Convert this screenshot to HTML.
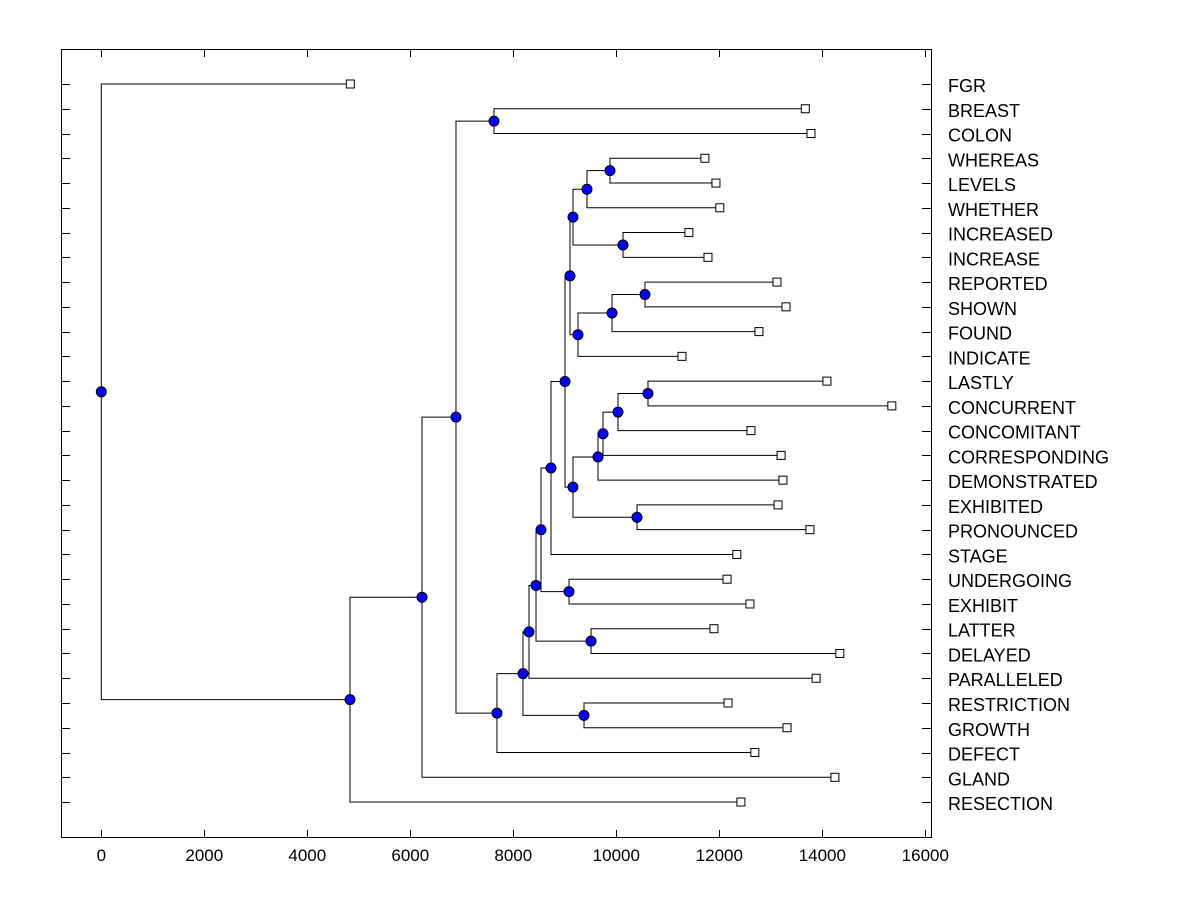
<!DOCTYPE html>
<html><head><meta charset="utf-8"><style>
html,body{margin:0;padding:0;background:#fff;}
svg{display:block;font-family:"Liberation Sans",Arial,sans-serif;}
</style></head><body>
<svg id="chart" width="1200" height="900" viewBox="0 0 1200 900" xmlns="http://www.w3.org/2000/svg">
<rect x="0" y="0" width="1200" height="900" fill="#fff"/>
<g id="axes"></g>
<g id="tree"></g>
<rect x="61.5" y="49.5" width="870" height="788" fill="none" stroke="#000" stroke-width="1"/>
</svg>
<script>
const leafNames = ["FGR","BREAST","COLON","WHEREAS","LEVELS","WHETHER","INCREASED","INCREASE","REPORTED","SHOWN","FOUND","INDICATE","LASTLY","CONCURRENT","CONCOMITANT","CORRESPONDING","DEMONSTRATED","EXHIBITED","PRONOUNCED","STAGE","UNDERGOING","EXHIBIT","LATTER","DELAYED","PARALLELED","RESTRICTION","GROWTH","DEFECT","GLAND","RESECTION"];
const leafValues = [4835,13670,13780,11720,11935,12010,11410,11780,13120,13295,12770,11275,14090,15350,12615,13200,13235,13140,13760,12340,12150,12595,11895,14340,13880,12170,13315,12690,14245,12420];
const mergeLeft  = [1,3,31,6,32,8,35,36,34,12,39,40,41,17,42,38,45,20,46,22,48,50,25,51,53,30,55,56,0];
const mergeRight = [2,4,5,7,33,9,10,11,37,13,14,15,16,18,43,44,19,21,47,23,49,24,26,52,27,54,28,29,57];
const mergeHeight = [7625,9877,9431,10130,9159,10557,9917,9256,9101,10615,10033,9742,9645,10402,9159,9004,8732,9082,8538,9509,8441,8305,9373,8188,7683,6887,6227,4829,0];
const xTicks = [0,2000,4000,6000,8000,10000,12000,14000,16000];

const NS="http://www.w3.org/2000/svg";
const xs = v => 101.3 + v*0.0515;
const rowY = i => 84 + i*24.76;
function mk(tag, attrs, parent){const e=document.createElementNS(NS,tag);for(const k in attrs)e.setAttribute(k,attrs[k]);parent.appendChild(e);return e;}
const axes=document.getElementById('axes'), tree=document.getElementById('tree');

xTicks.forEach(t=>{
  const x=Math.round(xs(t))+0.5;
  let l=mk('line',{x1:x,x2:x,y1:49,y2:57,stroke:'#000'},axes);
  
  
  l=mk('line',{x1:x,x2:x,y1:830,y2:838,stroke:'#000'},axes);
  
  
  const tx=mk('text',{x:xs(t),y:861,'text-anchor':'middle','font-size':17},axes);
  tx.textContent=t;
  
  
});
leafNames.forEach((n,i)=>{
  const y=Math.round(rowY(i))+0.5;
  let l=mk('line',{x1:61,x2:70,y1:y,y2:y,stroke:'#000'},axes);
  
  
  l=mk('line',{x1:922,x2:931,y1:y,y2:y,stroke:'#000'},axes);
  
  
  const tx=mk('text',{x:948,y:rowY(i)+8,'font-size':18},axes);
  tx.textContent=n;
  
  
});

const N=leafNames.length;
const nodeX=[], nodeY=[];
leafNames.forEach((n,i)=>{nodeX[i]=xs(leafValues[i]);nodeY[i]=rowY(i);});
const lines=mk('g',{},tree), marks=mk('g',{},tree);
mergeHeight.forEach((h,k)=>{
  const id=N+k, a=mergeLeft[k], b=mergeRight[k];
  const x=xs(h);
  nodeX[id]=x; nodeY[id]=(nodeY[a]+nodeY[b])/2;
  const p=mk('path',{d:`M${nodeX[a]} ${nodeY[a]}H${x}V${nodeY[b]}H${nodeX[b]}`,fill:'none',stroke:'#000','stroke-width':1},lines);
  
  
});
leafNames.forEach((n,i)=>{
  const s=mk('rect',{x:nodeX[i]-4,y:nodeY[i]-4,width:8,height:8,fill:'#fff',stroke:'#000'},marks);
  
  
});
mergeHeight.forEach((h,k)=>{
  const id=N+k;
  const c=mk('circle',{cx:nodeX[id],cy:nodeY[id],r:5,fill:'#0000ff',stroke:'#000'},marks);
  
  
});
</script>
</body></html>
